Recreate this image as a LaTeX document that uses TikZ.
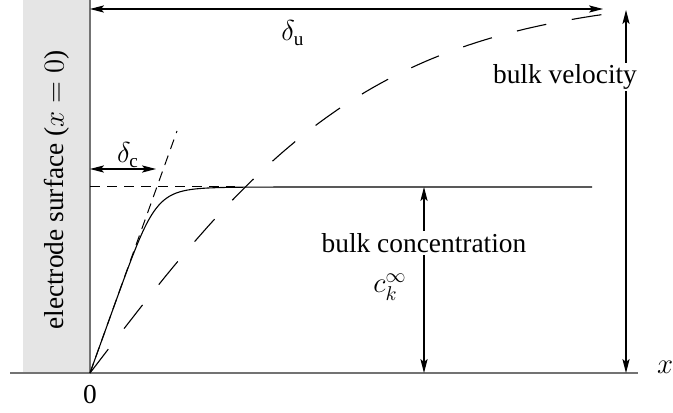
\documentclass[tikz,border=0pt]{standalone}
\usepackage{fontspec}
\setmainfont{Liberation Serif}
\usetikzlibrary{arrows.meta}

\begin{document}
\begin{tikzpicture}[
  x=0.5pt, y=0.5pt,
  font=\fontsize{13.7}{16}\selectfont,
  axis/.style={draw=black!55, line width=0.8pt},
  profile/.style={line width=0.55pt},
  velo/.style={line width=0.55pt, dash pattern=on 15pt off 13pt},
  guide/.style={line width=0.5pt, dash pattern=on 5pt off 3.5pt},
  dim/.style={
    {Stealth[length=7pt, width=3.6pt, inset=1.5pt]}-{Stealth[length=7pt, width=3.6pt, inset=1.5pt]},
    line width=0.55pt,
  },
  tag/.style={fill=white, inner sep=1pt},
]
\useasboundingbox (0,0) rectangle (673,412);

% ---- Electrode wall and x axis ------------------------------------------
\fill[black!10] (23,39) rectangle (90,412);
\coordinate (o)     at (90,39);
\coordinate (wtop)  at (90,412);
\coordinate (xl)    at (10,39);
\coordinate (xr)    at (638,39);
\draw[axis] (xl) -- (xr);
\draw[axis] (o) -- (wtop);
\node[rotate=90] (surf) at (57,222) {electrode surface ($x = 0$)};
\node (zero) at (90,17) {0};
\node (xlab) at (665,45) {$x$};

% ---- Concentration profile, its tangent and bulk level ------------------
\coordinate (cflat) at (592,225);
\coordinate (cl)    at (90,225);
\coordinate (cr)    at (235,225);
\coordinate (tan)   at (177,281);
\draw[profile] plot[domain=0:3, samples=90]
  ({90+67*\x}, {39+186*\x/(1+\x^6)^(1/6)}) -- (cflat);
\draw[guide] (cl) -- (cr);
\draw[guide] (o) -- (tan);

% ---- Velocity profile ----------------------------------------------------
\draw[velo] plot[domain=0:525, samples=90] ({90+\x}, {39+380*tanh(\x/290)});

% ---- Dimension arrows -----------------------------------------------------
\coordinate (dcl) at (90,243);
\coordinate (dcr) at (156,243);
\coordinate (dul) at (90,403);
\coordinate (dur) at (603,403);
\coordinate (vt)  at (626,402);
\coordinate (vb)  at (626,39);
\coordinate (ct)  at (424,225);
\coordinate (cb)  at (424,39);
\draw[dim] (dcl) -- (dcr);
\draw[dim] (dul) -- (dur);
\draw[dim] (vt) -- (vb);
\draw[dim] (ct) -- (cb);

% ---- Labels ---------------------------------------------------------------
\node (dc) at (128,257) {$\delta_{\mathrm{c}}$};
\node (du) at (293,379) {$\delta_{\mathrm{u}}$};
\node[tag] (bv) at (565,335) {bulk velocity};
\node[tag] (bc) at (424,169) {bulk concentration};
\node (ck) at (390,125) {$c_k^\infty$};

\end{tikzpicture}
\end{document}
